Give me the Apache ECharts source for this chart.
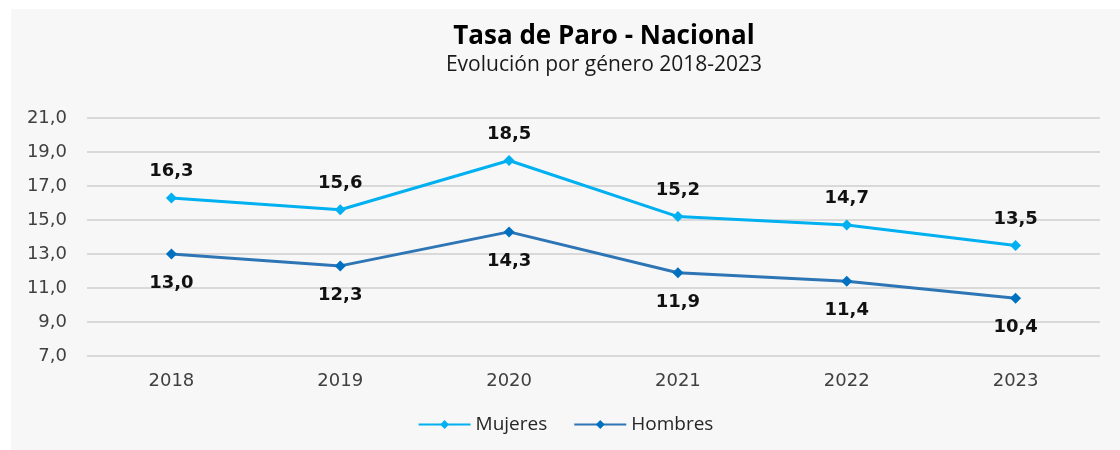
<!DOCTYPE html>
<html>
<head>
<meta charset="utf-8">
<script src="https://cdn.jsdelivr.net/npm/echarts@6/dist/echarts.min.js"></script>
<style>
html,body{margin:0;padding:0;background:#ffffff;}
#chart{position:absolute;left:11px;top:9px;width:1109px;height:441px;background:#f7f7f7;}
</style>
</head>
<body>
<div id="chart"></div>
<script>
const years = ['2018','2019','2020','2021','2022','2023'];
const mujeres = [16.3, 15.6, 18.5, 15.2, 14.7, 13.5];
const hombres = [13.0, 12.3, 14.3, 11.9, 11.4, 10.4];
const seriesNames = ['Mujeres', 'Hombres'];
const titleText = 'Tasa de Paro - Nacional';
const subtitleText = 'Evolución por género 2018-2023';

const fmt = v => v.toFixed(1).replace('.', ',');
const chart = echarts.init(document.getElementById('chart'), null, {renderer:'canvas'});
const labelStyle = {show:true, fontFamily:'DejaVu Sans', fontWeight:'bold', fontSize:18, color:'#111111',
  formatter: p => fmt(p.value)};
chart.setOption({
  backgroundColor:'#f7f7f7',
  animation:false,
  title:{
    text:titleText, subtext:subtitleText, left:588, textAlign:'center', top:10, itemGap:5,
    textStyle:{fontFamily:'Open Sans', fontWeight:'bold', fontSize:26, color:'#000000'},
    subtextStyle:{fontFamily:'Open Sans', fontSize:21, color:'#1a1a1a'}
  },
  legend:{
    data:seriesNames, bottom:11, left:'center', itemWidth:52, itemHeight:11, itemGap:26,
    textStyle:{fontFamily:'Open Sans', fontSize:19, color:'#262626'}
  },
  grid:{left:76, right:20, top:109, bottom:94},
  xAxis:{
    type:'category', data:years, boundaryGap:true,
    axisLine:{show:false}, axisTick:{show:false},
    axisLabel:{fontFamily:'DejaVu Sans', fontSize:18, color:'#404040', margin:16}
  },
  yAxis:{
    type:'value', min:7, max:21, interval:2,
    axisLine:{show:false}, axisTick:{show:false},
    axisLabel:{fontFamily:'DejaVu Sans', fontSize:18, color:'#404040', margin:20, formatter:v=>fmt(v)},
    splitLine:{lineStyle:{color:'#d9d9d9', width:2}}
  },
  series:[
    {name:seriesNames[0], type:'line', data:mujeres, symbol:'diamond', symbolSize:11,
     color:'#00b0f0', lineStyle:{width:3, color:'#00b0f0'}, itemStyle:{color:'#00b0f0'},
     label:Object.assign({position:'top', distance:12}, labelStyle)},
    {name:seriesNames[1], type:'line', data:hombres, symbol:'diamond', symbolSize:11,
     color:'#2e75b6', lineStyle:{width:3, color:'#2e75b6'}, itemStyle:{color:'#0070c0'},
     label:Object.assign({position:'bottom', distance:15}, labelStyle)}
  ]
});
</script>
</body>
</html>
